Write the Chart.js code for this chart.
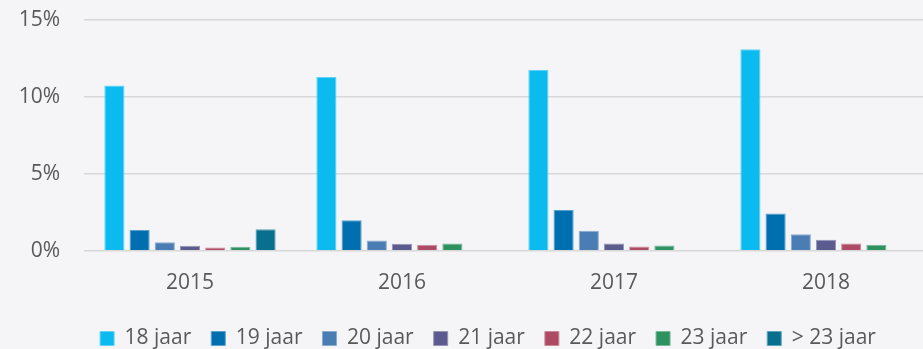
<!DOCTYPE html>
<html>
<head>
<meta charset="utf-8">
<script src="https://cdn.jsdelivr.net/npm/chart.js@4/dist/chart.umd.min.js"></script>
<style>
  html, body { margin: 0; padding: 0; background: #f5f5f7; overflow: hidden; }
  #wrap { position: relative; width: 932px; height: 349px; }
</style>
</head>
<body>
<div id="wrap"><canvas id="c" width="932" height="349"></canvas></div>
<script>
// Share of students per age group, by year (percent)
const years = ['2015', '2016', '2017', '2018'];
const ageGroups = ['18 jaar', '19 jaar', '20 jaar', '21 jaar', '22 jaar', '23 jaar', '> 23 jaar'];
const age18 = [10.75, 11.3, 11.75, 13.1];
const age19 = [1.35, 1.98, 2.65, 2.43];
const age20 = [0.55, 0.67, 1.3, 1.08];
const age21 = [0.33, 0.46, 0.48, 0.72];
const age22 = [0.22, 0.39, 0.28, 0.48];
const age23 = [0.27, 0.48, 0.35, 0.39];
const ageOver23 = [1.4, 0.05, 0, 0];
const yTicks = [0, 5, 10, 15];

const seriesValues = [age18, age19, age20, age21, age22, age23, ageOver23];
const colors = ['#0bbbef', '#006fb0', '#4a7db4', '#5c5b8f', '#ae4a63', '#2d9160', '#08708e'];

function lighten(hex, t) {
  const n = parseInt(hex.slice(1), 16);
  const r = (n >> 16) & 255, g = (n >> 8) & 255, b = n & 255;
  const m = c => Math.round(c + (255 - c) * t);
  return `rgb(${m(r)},${m(g)},${m(b)})`;
}

const FONT = "'Open Sans', sans-serif";
const TEXT = '#595959';

// nudge the legend row to the right of the canvas centre
const legendShift = {
  id: 'legendShift',
  afterLayout(chart) {
    const lg = chart.legend;
    if (lg) { lg.left += 44; }
  }
};

new Chart(document.getElementById('c'), {
  type: 'bar',
  data: {
    labels: years,
    datasets: ageGroups.map((name, i) => ({
      label: name,
      data: seriesValues[i],
      backgroundColor: colors[i],
      borderColor: lighten(colors[i], 0.35),
      borderWidth: 1,
      borderSkipped: 'start',
      barPercentage: 0.8,
      categoryPercentage: 0.832
    }))
  },
  plugins: [legendShift],
  options: {
    responsive: false,
    animation: false,
    devicePixelRatio: 1,
    layout: { padding: { left: 0, right: 0, top: 20, bottom: -10 } },
    plugins: {
      legend: {
        position: 'bottom',
        align: 'center',
        labels: {
          boxWidth: 14,
          boxHeight: 14,
          padding: 20,
          color: TEXT,
          font: { family: FONT, size: 21 }
        }
      },
      tooltip: { enabled: false }
    },
    scales: {
      x: {
        grid: { display: false, drawTicks: false },
        border: { display: false },
        afterFit: axis => { axis.height -= 8; },
        ticks: { color: TEXT, font: { family: FONT, size: 21 }, padding: 20 }
      },
      y: {
        min: 0,
        max: 15,
        afterBuildTicks: axis => { axis.ticks = yTicks.map(v => ({ value: v })); },
        afterFit: axis => { axis.width = 84; axis.paddingTop = 0; },
        grid: { color: '#d8d8d8', lineWidth: 1.6, drawTicks: false },
        border: { display: false },
        ticks: {
          color: TEXT,
          font: { family: FONT, size: 21 },
          padding: 24,
          callback: v => v + '%'
        }
      }
    }
  }
});
</script>
</body>
</html>
